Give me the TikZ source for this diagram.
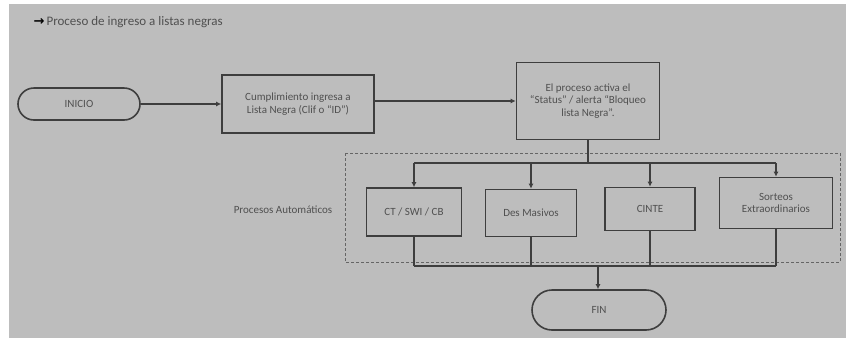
\documentclass[tikz,border=0pt]{standalone}
\usepackage{fontspec}
\setmainfont{Carlito}
\usetikzlibrary{arrows.meta}
\definecolor{bg}{HTML}{BDBDBD}
\definecolor{ln}{HTML}{3E3E3E}
\definecolor{tx}{HTML}{505050}
\tikzset{
  every node/.style={text=tx, font=\fontsize{11}{12.5}\selectfont, align=center},
  term/.style={draw=ln, line width=1.6pt, rounded corners=16pt, inner sep=0pt},
  procbox/.style={draw=ln, line width=1.6pt, inner sep=0pt},
  conn/.style={draw=ln, line width=1.2pt},
  arr/.style={conn, -{Latex[length=5pt,width=5pt]}},
  grp/.style={draw=ln!80, line width=0.8pt, dash pattern=on 3pt off 2pt}
}
\begin{document}
\begin{tikzpicture}[x=1pt,y=-1pt]
\useasboundingbox (0,0) rectangle (846,338);
\fill[white] (0,0) rectangle (846,338);
\fill[bg] (9,4) rectangle (846,338);
\node[anchor=west, font=\fontsize{13}{15}\selectfont] (title) at (30,22) {{\color{black}\fontspec{DejaVu Sans}\bfseries →}\,Proceso de ingreso a listas negras};
\node[term, minimum width=122pt, minimum height=32pt] (ini) at (79,104) {INICIO};
\node[procbox, minimum width=152pt, minimum height=58pt] (b1) at (298,104) {Cumplimiento ingresa a\\Lista Negra (Clif o ``ID'')};
\node[procbox, minimum width=143pt, minimum height=77pt] (b2) at (588,101) {El proceso activa el\\``Status'' / alerta ``Bloqueo\\lista Negra''.};
\node (lab) at (283,210) {Procesos Automáticos};
\node[procbox, minimum width=95pt, minimum height=48pt] (c1) at (414,212) {CT / SWI / CB};
\node[procbox, minimum width=91pt, minimum height=47pt] (c2) at (531,213) {Des Masivos};
\node[procbox, minimum width=90pt, minimum height=43pt] (c3) at (650,209) {CINTE};
\node[procbox, minimum width=113pt, minimum height=51pt] (c4) at (776,203) {Sorteos\\Extraordinarios};
\node[term, minimum width=134pt, minimum height=40pt, rounded corners=20pt] (fin) at (599,310) {FIN};
\draw[grp] (345,153) rectangle (840,262);
\draw[arr] (ini) -- (b1);
\draw[arr] (b1.east |- 0,101) -- (b2.west |- 0,101);
\coordinate (top) at (588,163);
\coordinate (bot) at (598,266);
\draw[conn] (b2.south) -- (top);
\draw[conn] (c1.north |- top) -- (c4.north |- top);
\foreach \c in {c1,c2,c3,c4} {
  \draw[arr] (\c.north |- top) -- (\c.north);
  \draw[conn] (\c.south) -- (\c.south |- bot);
}
\draw[conn] (c1.south |- bot) -- (c4.south |- bot);
\draw[arr] (bot) -- (fin.north -| bot);
\end{tikzpicture}
\end{document}
